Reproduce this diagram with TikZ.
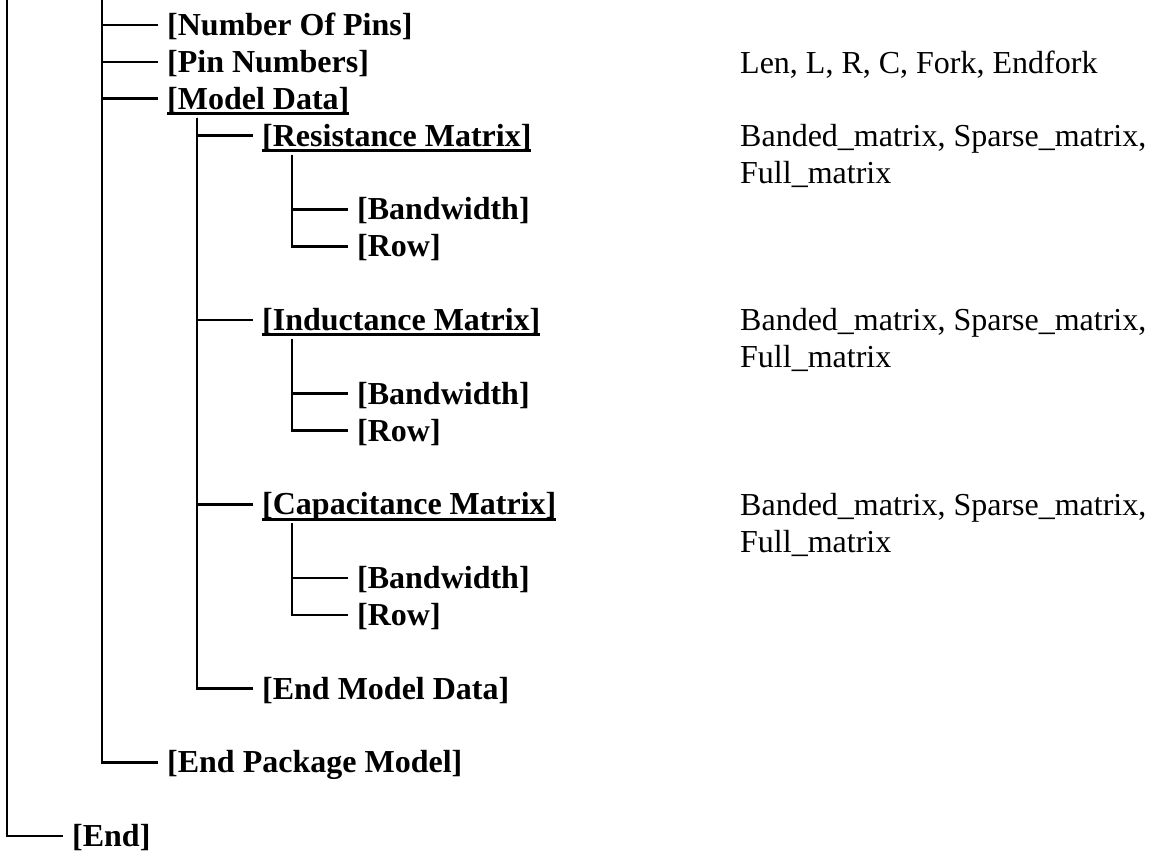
\documentclass[tikz,border=0pt]{standalone}
\usepackage{fontspec}
\setmainfont{Liberation Serif}
\newcommand\ulkey[1]{\setbox0\hbox{#1}\rlap{\rule[-6pt]{\wd0}{3pt}}\box0}
\begin{document}
\begin{tikzpicture}[x=1pt,y=-1pt,
  tree/.style={line width=2.6pt},
  key/.style={anchor=west,inner xsep=9pt,inner ysep=0pt,text height=21pt,text depth=0pt,font=\fontsize{32}{36.86}\selectfont\bfseries},
  note/.style={anchor=north west,inner sep=0pt,align=left,font=\fontsize{32}{36.86}\selectfont}]

\useasboundingbox (0,0) rectangle (1152,852);

\coordinate (top1) at (7,0);
\coordinate (top2) at (102,0);

\node [key] (pins) at (158,25) {[Number Of Pins]};
\node [key] (pinnum) at (158,61.9) {[Pin Numbers]};
\node [key] (mdata) at (158,98.7) {\ulkey{[Model Data]}};
\node [key] (rmat) at (253,135.6) {\ulkey{[Resistance Matrix]}};
\node [key] (rband) at (348,209.3) {[Bandwidth]};
\node [key] (rrow) at (348,246.2) {[Row]};
\node [key] (lmat) at (253,319.9) {\ulkey{[Inductance Matrix]}};
\node [key] (lband) at (348,393.6) {[Bandwidth]};
\node [key] (lrow) at (348,430.5) {[Row]};
\node [key] (cmat) at (253,504.2) {\ulkey{[Capacitance Matrix]}};
\node [key] (cband) at (348,577.9) {[Bandwidth]};
\node [key] (crow) at (348,614.8) {[Row]};
\node [key] (endmd) at (253,688.5) {[End Model Data]};
\node [key] (endpkg) at (158,762.2) {[End Package Model]};
\node [key] (end) at (63,835.9) {[End]};

\node [note] (pinlist) at (740,50.5) {Len, L, R, C, Fork, Endfork};
\node [note] (rlist) at (740,124.2) {Banded\_matrix, Sparse\_matrix,\\Full\_matrix};
\node [note] (llist) at (740,308.5) {Banded\_matrix, Sparse\_matrix,\\Full\_matrix};
\node [note] (clist) at (740,492.8) {Banded\_matrix, Sparse\_matrix,\\Full\_matrix};

\draw [tree] (top1) |- (end.west);

\draw [tree] (top2) |- (pins.west);
\draw [tree] (top2) |- (pinnum.west);
\draw [tree] (top2) |- (mdata.west);
\draw [tree] (top2) |- (endpkg.west);

\draw [tree] ([shift={(39,19)}]mdata.west) |- (rmat.west);
\draw [tree] ([shift={(39,19)}]mdata.west) |- (lmat.west);
\draw [tree] ([shift={(39,19)}]mdata.west) |- (cmat.west);
\draw [tree] ([shift={(39,19)}]mdata.west) |- (endmd.west);

\draw [tree] ([shift={(39,19)}]rmat.west) |- (rband.west);
\draw [tree] ([shift={(39,19)}]rmat.west) |- (rrow.west);
\draw [tree] ([shift={(39,19)}]lmat.west) |- (lband.west);
\draw [tree] ([shift={(39,19)}]lmat.west) |- (lrow.west);
\draw [tree] ([shift={(39,19)}]cmat.west) |- (cband.west);
\draw [tree] ([shift={(39,19)}]cmat.west) |- (crow.west);
\end{tikzpicture}
\end{document}
